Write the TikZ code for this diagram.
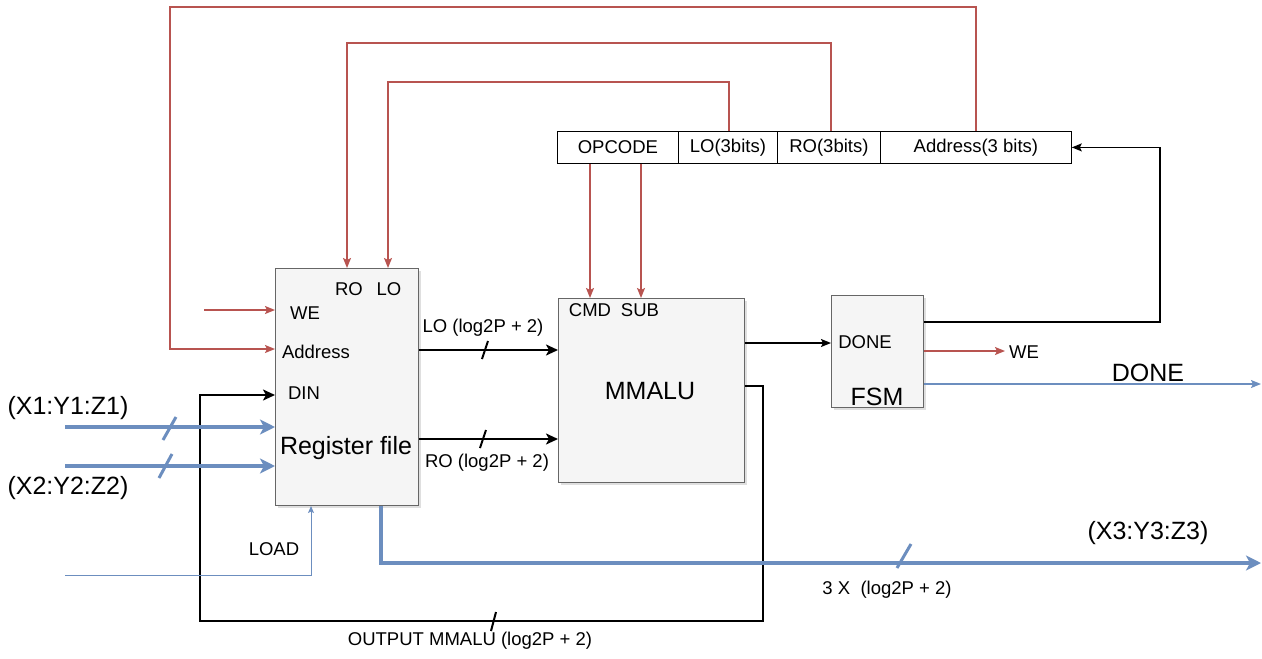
\documentclass[tikz,border=0pt]{standalone}
\usepackage{fontspec}
\setmainfont{Liberation Sans}
\usetikzlibrary{arrows.meta,shadows}
\definecolor{rd}{HTML}{B85450}
\definecolor{bl}{HTML}{6C8EBF}
\definecolor{bxfill}{HTML}{F5F5F5}
\definecolor{bxline}{HTML}{666666}
\newcommand\fsmall{\fontsize{18.5}{21}\selectfont}
\newcommand\fbig{\fontsize{25}{28}\selectfont}
\begin{document}
\begin{tikzpicture}[x=1pt,y=-1pt,
  box/.style={draw=bxline, fill=bxfill, line width=1pt, inner sep=0pt, anchor=north west,
    drop shadow={opacity=0.25, shadow xshift=2pt, shadow yshift=-2pt}},
  cell/.style={draw=black, line width=0.8pt, inner sep=0pt, anchor=north west, minimum height=32pt, font=\fsmall},
  lbl/.style={inner sep=0pt, font=\fsmall},
  blbl/.style={inner sep=0pt, font=\fbig},
  rl/.style={draw=rd, line width=1.5pt, -{Stealth[length=10pt,width=8pt,inset=2pt]}},
  bk/.style={draw=black, line width=1.5pt, -{Stealth[length=10pt,width=8pt,inset=2pt]}},
  bkt/.style={draw=black, line width=2.5pt, -{Stealth[length=12pt,width=11pt,inset=3pt]}},
  bkl/.style={draw=black, line width=2.5pt},
  blt/.style={draw=bl, line width=3.5pt, -{Stealth[length=15pt,width=15pt,inset=4pt]}},
  bln/.style={draw=bl, line width=1pt, -{Stealth[length=7pt,width=6pt,inset=1.5pt]}},
  blm/.style={draw=bl, line width=1.5pt, -{Stealth[length=10pt,width=8pt,inset=2pt]}},
  tick/.style={line width=2pt, line cap=butt},
]
\useasboundingbox (0,0) rectangle (1262,659);

% boxes
\node[box, minimum width=143pt, minimum height=237pt] (rf) at (275,268) {};
\node[box, minimum width=186pt, minimum height=184pt] (alu) at (558,298) {};
\node[box, minimum width=92pt, minimum height=112pt] (fsm) at (831,295) {};

\node[cell, minimum width=121pt] (op) at (557,131) {OPCODE};
\node[cell, minimum width=99pt] (lo) at (678,131) {LO(3bits)};
\node[cell, minimum width=103pt] (ro) at (777,131) {RO(3bits)};
\node[cell, minimum width=191pt] (ad) at (880,131) {Address(3 bits)};

% labels inside boxes
\node[lbl] (tRO) at (349,289) {RO};
\node[lbl] (tLO) at (389,289) {LO};
\node[lbl] (tWE) at (305,313) {WE};
\node[lbl] (tAd) at (316,352) {Address};
\node[lbl] (tDIN) at (304,393) {DIN};
\node[blbl] (tRF) at (346,448) {Register file};
\node[lbl] (tCMD) at (590,310) {CMD};
\node[lbl] (tSUB) at (640,310) {SUB};
\node[blbl] (tALU) at (650,391) {MMALU};
\node[lbl] (tDN) at (865,342) {DONE};
\node[blbl] (tFSM) at (877,397) {FSM};

% outside labels
\node[blbl] (x1) at (68,408) {(X1:Y1:Z1)};
\node[blbl] (x2) at (68,488) {(X2:Y2:Z2)};
\node[lbl] (tLOAD) at (274,549) {LOAD};
\node[lbl] (tLOb) at (483,328) {LO (log2P + 2)};
\node[lbl] (tROb) at (487,463) {RO (log2P + 2)};
\node[lbl] (tWEo) at (1024,352) {WE};
\node[blbl] (tDONE) at (1148,373) {DONE};
\node[blbl] (x3) at (1148,533) {(X3:Y3:Z3)};
\node[lbl] (t3x) at (887,590) {3 X\ \ (log2P + 2)};
\node[lbl] (tOut) at (470,641) {OUTPUT MMALU (log2P + 2)};

% red feedback lines
\coordinate (o1) at (976,7); \coordinate (o2) at (170,349);
\draw[rl] (o1 |- ad.north) -- (o1) -| (o2) -- (rf.west |- o2);
\coordinate (m1) at (831,43); \coordinate (m2) at (347,43);
\draw[rl] (m1 |- ro.north) -- (m1) -- (m2) -- (m2 |- rf.north);
\coordinate (i1) at (729,82); \coordinate (i2) at (388,82);
\draw[rl] (i1 |- lo.north) -- (i1) -- (i2) -- (i2 |- rf.north);
\coordinate (we0) at (204,310);
\draw[rl] (we0) -- (rf.west |- we0);

% opcode to ALU
\coordinate (c1) at (590,0); \coordinate (c2) at (641,0);
\draw[rl] (c1 |- op.south) -- (c1 |- alu.north);
\draw[rl] (c2 |- op.south) -- (c2 |- alu.north);

% DIN loop
\coordinate (d1) at (200,395); \coordinate (d2) at (763,621); \coordinate (d3) at (763,386);
\draw[bkt] (alu.east |- d3) -- (d3) -- (d2) -| (d1) -- (rf.west |- d1);
\draw[tick] (491,631) -- (496,612);

% LO / RO buses
\coordinate (loy) at (0,350); \coordinate (roy) at (0,439);
\draw[bkt] (rf.east |- loy) -- (alu.west |- loy);
\draw[bkt] (rf.east |- roy) -- (alu.west |- roy);
\draw[tick] (482,359) -- (488,341);
\draw[tick] (480,448) -- (486,430);

% blue inputs
\coordinate (b1) at (65,427); \coordinate (b2) at (65,466);
\draw[blt] (b1) -- (rf.west |- b1);
\draw[blt] (b2) -- (rf.west |- b2);
\draw[bl, tick, line width=3pt] (163,440) -- (176,417);
\draw[bl, tick, line width=3pt] (159,478) -- (172,454);

% LOAD
\coordinate (l0) at (65,575); \coordinate (l1) at (311,575);
\draw[bln] (l0) -- (l1) -- (l1 |- rf.south);

% output bus
\coordinate (q1) at (381,563); \coordinate (qe) at (1261,563);
\draw[blt] (q1 |- rf.south) -- (q1) -- (qe);
\draw[bl, tick, line width=3pt] (897,568) -- (911,544);

% ALU to FSM
\coordinate (mf) at (0,343);
\draw[bk] (alu.east |- mf) -- (fsm.west |- mf);

% FSM outputs
\coordinate (f1) at (1160,322);
\draw[bk] (fsm.east |- f1) -- (f1) |- (ad.east);
\coordinate (weo) at (1005,351);
\draw[rl] (fsm.east |- weo) -- (weo);
\coordinate (dn) at (1261,384);
\draw[blm] (fsm.east |- dn) -- (dn);
\end{tikzpicture}
\end{document}
